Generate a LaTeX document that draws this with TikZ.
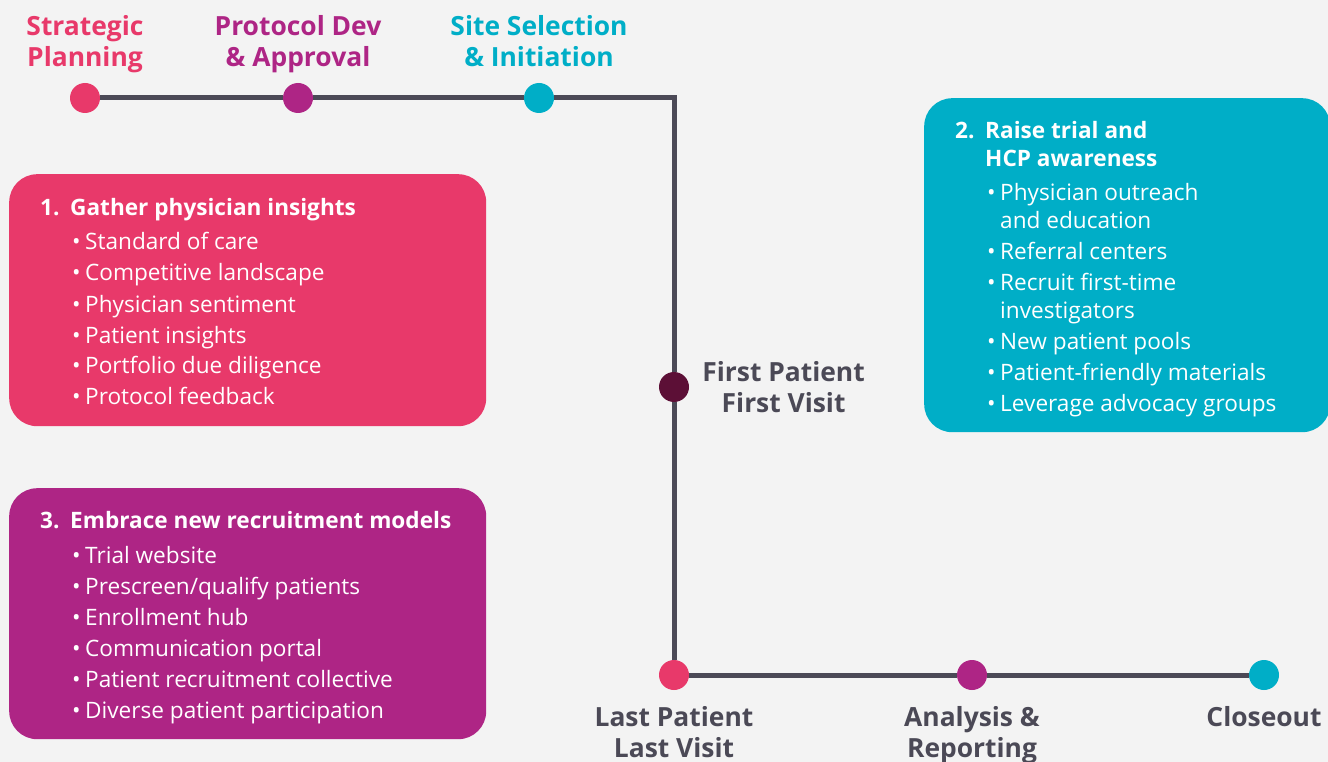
\documentclass[tikz,border=0pt]{standalone}
\usepackage{fontspec}
\setmainfont{Open Sans}
\usetikzlibrary{positioning}

\definecolor{paper}{HTML}{F3F3F3}
\definecolor{rose}{HTML}{E8396A}
\definecolor{plum}{HTML}{AE2585}
\definecolor{lagoon}{HTML}{00AEC7}
\definecolor{slate}{HTML}{4B4956}
\definecolor{wine}{HTML}{5C0F36}

% one row of a card list
\newcommand{\bul}[1]{& \hspace{2pt}\textbullet & #1\\[3pt]}

\begin{document}
\begin{tikzpicture}[
  x=1pt, y=-1pt,
  card/.style={rectangle, rounded corners=28pt, anchor=north west, inner sep=0pt},
  cardtext/.style={anchor=base west, inner sep=0pt, text=white, font=\fontsize{22.6}{28}\selectfont},
  dot/.style={circle, minimum size=30pt, inner sep=0pt},
  mile/.style={inner sep=0pt, align=center, font=\bfseries\fontsize{26.4}{31}\selectfont},
  track/.style={line width=5pt, draw=slate},
]
  \useasboundingbox (0,0) rectangle (1328,762);
  \fill[paper] (0,0) rectangle (1328,762);

  % milestones
  \node[dot, fill=rose] (strat) at (85,98) {};
  \node[dot, fill=plum] (proto) at (298,98) {};
  \node[dot, fill=lagoon] (site) at (539,98) {};
  \coordinate (bend) at (674,98);
  \node[dot, fill=wine] (fpfv) at (674,387) {};
  \node[dot, fill=rose] (lplv) at (674,675) {};
  \node[dot, fill=plum] (report) at (972,675) {};
  \node[dot, fill=lagoon] (close) at (1264,675) {};

  \draw[track] (strat) -- (proto) -- (site) -- (bend) -- (fpfv) -- (lplv) -- (report) -- (close);

  \node[mile, text=rose, above=6.5pt of strat] (stratlbl) {Strategic\\Planning\strut};
  \node[mile, text=plum, above=6.5pt of proto] (protolbl) {Protocol Dev\\\& Approval\strut};
  \node[mile, text=lagoon, above=6.5pt of site] (sitelbl) {Site Selection\\\& Initiation\strut};
  \node[mile, text=slate, right=13pt of fpfv] (fpfvlbl) {First Patient\\First Visit};
  \node[mile, text=slate, below=14.5pt of lplv] (lplvlbl) {\strut Last Patient\\Last Visit};
  \node[mile, text=slate, below=14.5pt of report] (reportlbl) {\strut Analysis \&\\Reporting};
  \node[mile, text=slate, below=14.5pt of close] (closelbl) {\strut Closeout};

  % cards
  \node[card, fill=rose, minimum width=477pt, minimum height=252pt] (gather) at (9,174) {};
  \node[cardtext] (gathertxt) at (40,215) {%
    \begin{tabular}[t]{@{}p{30pt}@{}p{15pt}@{}l@{}}
      \bfseries 1. & \multicolumn{2}{@{}l@{}}{\bfseries Gather physician insights}\\[7pt]
      \bul{Standard of care}
      \bul{Competitive landscape}
      \bul{Physician sentiment}
      \bul{Patient insights}
      \bul{Portfolio due diligence}
      \bul{Protocol feedback}
    \end{tabular}};

  \node[card, fill=lagoon, minimum width=406pt, minimum height=334pt] (raise) at (924,98) {};
  \node[cardtext] (raisetxt) at (955,139) {%
    \begin{tabular}[t]{@{}p{30pt}@{}p{15pt}@{}l@{}}
      \bfseries 2. & \multicolumn{2}{@{}l@{}}{\bfseries Raise trial and}\\
      & \multicolumn{2}{@{}l@{}}{\bfseries HCP awareness}\\[6pt]
      & \hspace{2pt}\textbullet & Physician outreach\\
      & & and education\\[3pt]
      \bul{Referral centers}
      & \hspace{2pt}\textbullet & Recruit first-time\\
      & & investigators\\[3pt]
      \bul{New patient pools}
      \bul{Patient-friendly materials}
      \bul{Leverage advocacy groups}
    \end{tabular}};

  \node[card, fill=plum, minimum width=477pt, minimum height=251pt] (embrace) at (9,488) {};
  \node[cardtext] (embracetxt) at (40,528) {%
    \begin{tabular}[t]{@{}p{30pt}@{}p{15pt}@{}l@{}}
      \bfseries 3. & \multicolumn{2}{@{}l@{}}{\bfseries Embrace new recruitment models}\\[7pt]
      \bul{Trial website}
      \bul{Prescreen/qualify patients}
      \bul{Enrollment hub}
      \bul{Communication portal}
      \bul{Patient recruitment collective}
      \bul{Diverse patient participation}
    \end{tabular}};
\end{tikzpicture}
\end{document}
